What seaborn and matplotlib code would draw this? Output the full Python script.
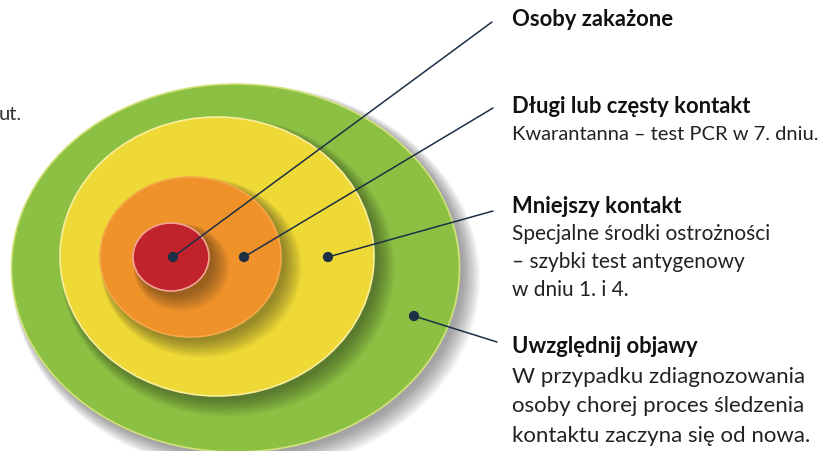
import numpy as np
import pandas as pd
import matplotlib.pyplot as plt
from matplotlib.patches import Ellipse
import seaborn as sns

# Rings, outer to inner (pixel space of the 822x451 canvas)
ring_names = ['Uwzględnij objawy', 'Mniejszy kontakt', 'Długi lub częsty kontakt', 'Osoby zakażone']
ring_cx = [235.5, 217, 190.5, 171]
ring_cy = [268, 256.5, 257, 257]
ring_w = [448, 314, 181, 76]
ring_h = [368, 279, 160, 68]
ring_fill = ['#8bc043', '#efd936', '#ef922a', '#c0232b']
ring_edge = ['#d2e27a', '#f8ee9c', '#f4a84a', '#f2a493']

# Pointer dots and where their leader lines end
dot_x = [414, 328, 244, 173]
dot_y = [316, 257, 257, 257]
end_x = [497, 493, 493, 492]
end_y = [342, 211, 108, 22]

# Label blocks: title + body lines
titles = ['Uwzględnij objawy', 'Mniejszy kontakt', 'Długi lub częsty kontakt', 'Osoby zakażone']
title_y = [353, 213, 113, 26]
bodies = [
    ['W przypadku zdiagnozowania', 'osoby chorej proces śledzenia', 'kontaktu zaczyna się od nowa.'],
    ['Specjalne środki ostrożności', '– szybki test antygenowy', 'w dniu 1. i 4.'],
    ['Kwarantanna – test PCR w 7. dniu.'],
    [],
]
body_gap = [29.7, 27.5, 27, 27]
body_size = [16, 15, 14.5, 14.5]

sns.set_theme(style='white')
plt.rcParams['font.family'] = ['Lato', 'DejaVu Sans']

fig = plt.figure(figsize=(8.22, 4.51), dpi=100)
ax = fig.add_axes([0, 0, 1, 1])
ax.set_xlim(0, 822)
ax.set_ylim(451, 0)
ax.axis('off')

# Concentric ellipses with a soft drop shadow to the lower right
z = 1
for cx, cy, w, h, fc, ec in zip(ring_cx, ring_cy, ring_w, ring_h, ring_fill, ring_edge):
    for k in range(12):
        ax.add_patch(Ellipse((cx + 4 + k * 0.6, cy + 4 + k * 0.6), w + k * 1.8, h + k * 1.8,
                             facecolor='#1a1a1a', edgecolor='none', alpha=0.04, zorder=z))
    z += 1
    ax.add_patch(Ellipse((cx, cy), w, h, facecolor=fc, edgecolor=ec, linewidth=1.2, zorder=z))
    z += 1

# Leader lines and dots
for x0, y0, x1, y1 in zip(dot_x, dot_y, end_x, end_y):
    ax.plot([x0, x1], [y0, y1], color='#1c2f45', linewidth=1.1, zorder=z)
dots = pd.DataFrame({'x': dot_x, 'y': dot_y})
sns.scatterplot(data=dots, x='x', y='y', ax=ax, s=55, color='#1c2f45', edgecolor='none', zorder=z + 1)
ax.set_xlim(0, 822)
ax.set_ylim(451, 0)

# Labels
for t, ty, lines, gap, fs in zip(titles, title_y, bodies, body_gap, body_size):
    ax.text(512, ty, t, fontsize=15.8, fontweight='bold', color='#111111', va='baseline', ha='left')
    for i, line in enumerate(lines):
        ax.text(512, ty + gap * (i + 1), line, fontsize=fs, color='#222222', va='baseline', ha='left')

# cut-off text from the neighbouring panel
ax.text(-1, 120, 'ut.', fontsize=14.5, color='#333333', va='baseline', ha='left')

fig.savefig('out.png', dpi=100)
